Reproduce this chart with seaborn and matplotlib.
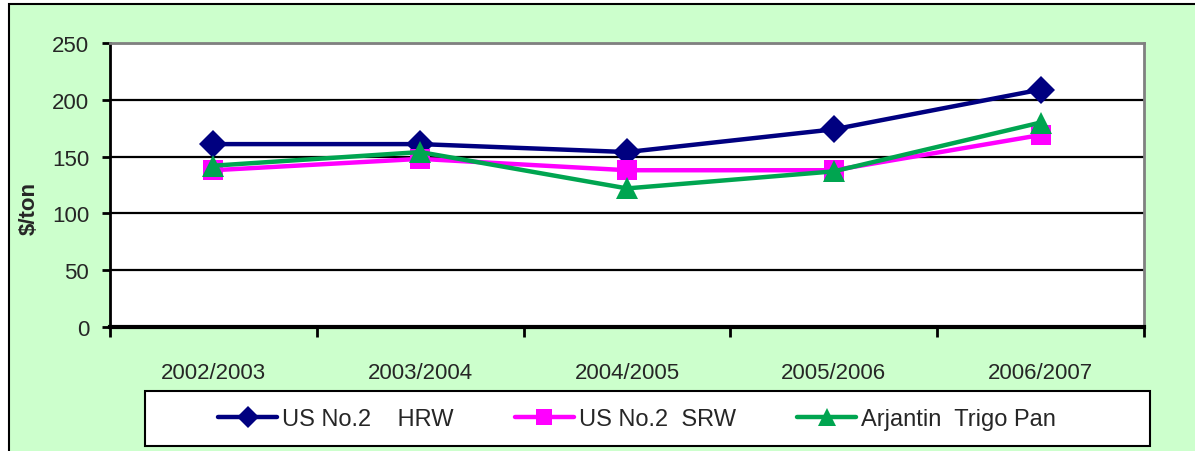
import pandas as pd
import seaborn as sns
import matplotlib.pyplot as plt
from matplotlib.patches import Rectangle

# dados
seasons = ['2002/2003', '2003/2004', '2004/2005', '2005/2006', '2006/2007']
hrw = [161, 161, 154, 174, 209]
srw = [138, 148, 138, 138, 169]
arg = [142, 154, 122, 137, 180]
series_names = ['US No.2    HRW', 'US No.2  SRW', 'Arjantin  Trigo Pan']

df = pd.DataFrame({
    'season': seasons * 3,
    'price': hrw + srw + arg,
    'series': [series_names[0]] * 5 + [series_names[1]] * 5 + [series_names[2]] * 5,
})

sns.set_style('white')
plt.rcParams['font.family'] = ['Liberation Sans', 'DejaVu Sans']

fig = plt.figure(figsize=(11.95, 4.52), dpi=100, facecolor='white')
# fundo verde com moldura (atrás dos eixos)
fundo = Rectangle((9 / 1195, -0.2), 1.2, 1.2 - 5 / 452, transform=fig.transFigure,
                  facecolor='#CCFFCC', edgecolor='black', linewidth=1.5, zorder=-10)
fig.add_artist(fundo)
# caixa da legenda
caixa = Rectangle((145 / 1195, 1 - 447 / 452), 1005 / 1195, 55 / 452,
                  transform=fig.transFigure, facecolor='white', edgecolor='black',
                  linewidth=1.5, zorder=-5)
fig.add_artist(caixa)

ax = fig.add_axes([110 / 1195, 1 - 328 / 452, (1144 - 110) / 1195, (328 - 44) / 452])
ax.set_facecolor('white')

cores = {series_names[0]: '#000080', series_names[1]: '#FF00FF', series_names[2]: '#00A550'}
marcadores = {series_names[0]: 'D', series_names[1]: 's', series_names[2]: '^'}
sns.lineplot(data=df, x='season', y='price', hue='series', style='series',
             palette=cores, markers=marcadores, dashes=False, linewidth=3.2,
             markersize=14, markeredgewidth=0, ax=ax, zorder=3)
# triângulos um pouco maiores
for ln in ax.lines:
    if ln.get_marker() == '^':
        ln.set_markersize(16)

ax.set_ylim(0, 250)
ax.set_xlim(-0.5, 4.5)
ax.set_yticks([0, 50, 100, 150, 200, 250])
ax.yaxis.grid(True, color='black', linewidth=1.6)
ax.set_axisbelow(True)

ax.spines['left'].set_color('black')
ax.spines['left'].set_linewidth(2)
ax.spines['bottom'].set_color('black')
ax.spines['bottom'].set_linewidth(3)
ax.spines['top'].set_color('#808080')
ax.spines['top'].set_linewidth(2)
ax.spines['right'].set_color('#808080')
ax.spines['right'].set_linewidth(2)

ax.tick_params(axis='y', direction='out', length=6, width=2, color='black',
               labelsize=16, pad=9, left=True)
ax.set_xticks(range(5))
ax.set_xticklabels(seasons)
ax.set_xticks([-0.5, 0.5, 1.5, 2.5, 3.5, 4.5], minor=True)
ax.tick_params(axis='x', which='major', length=0, labelsize=16, pad=25)
ax.tick_params(axis='x', which='minor', direction='out', length=7, width=2,
               color='black', bottom=True)

ax.set_xlabel('')
ax.set_ylabel('$/ton', fontsize=16, fontweight='bold')
ax.yaxis.set_label_coords(-0.068, 0.42)

handles, labels = ax.get_legend_handles_labels()
ax.legend_.remove()
leg = fig.legend(handles, labels, loc='center', ncol=3, frameon=False,
                 bbox_to_anchor=(637 / 1195, 1 - 420 / 452),
                 bbox_transform=fig.transFigure, fontsize=17, handlelength=2.5,
                 handletextpad=0.2, columnspacing=2.6, markerscale=0.8)

plt.savefig('out.png', dpi=100)
